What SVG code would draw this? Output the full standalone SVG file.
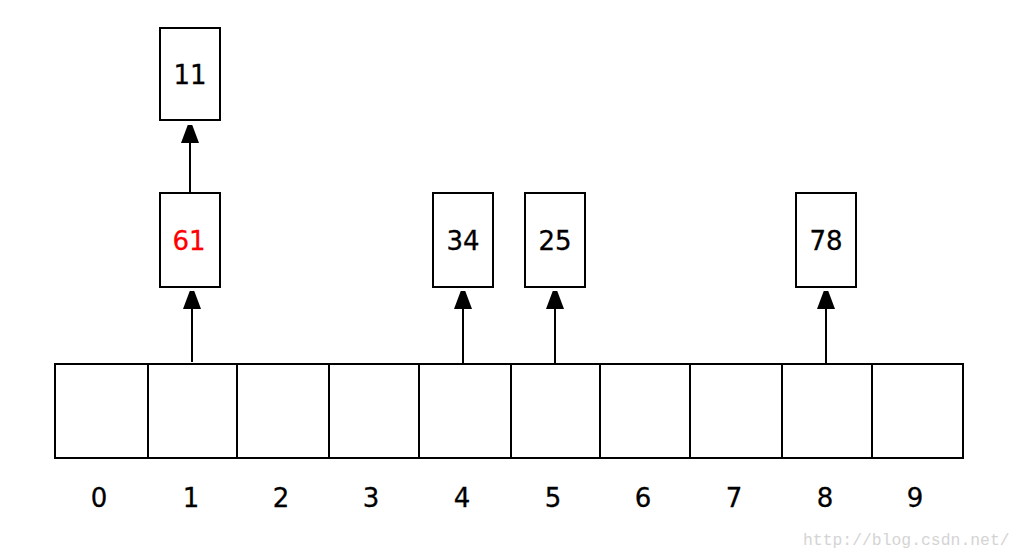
<svg xmlns="http://www.w3.org/2000/svg" width="1024" height="559" viewBox="0 0 1024 559">
<defs>
<marker id="arr" viewBox="0 0 18 24" refX="18" refY="9" markerWidth="18" markerHeight="24" markerUnits="userSpaceOnUse" orient="auto">
<path d="M0,0 L24,9 L0,18 Z" fill="#000"/>
</marker>
<style>
.box{fill:#fff;stroke:#000;stroke-width:2}
.cell{fill:#fff;stroke:#000;stroke-width:2}
.lbl{font-family:"DejaVu Sans","Liberation Sans",sans-serif;font-size:26px;fill:#000;stroke:#000;stroke-width:0.3;text-anchor:middle}
.red{fill:#ff0000;stroke:#ff0000}
.conn{stroke:#000;stroke-width:2;fill:none}
.wm{font-family:"Liberation Mono","DejaVu Sans Mono",monospace;font-size:16.4px;fill:#d4d4d4}
</style>
</defs>
<rect width="1024" height="559" fill="#fff"/>
<g id="array">
<rect class="cell" x="55" y="364" width="93" height="94"/>
<rect class="cell" x="148" y="364" width="89" height="94"/>
<rect class="cell" x="237" y="364" width="92" height="94"/>
<rect class="cell" x="329" y="364" width="90" height="94"/>
<rect class="cell" x="419" y="364" width="92" height="94"/>
<rect class="cell" x="511" y="364" width="89" height="94"/>
<rect class="cell" x="600" y="364" width="90" height="94"/>
<rect class="cell" x="690" y="364" width="92" height="94"/>
<rect class="cell" x="782" y="364" width="90" height="94"/>
<rect class="cell" x="872" y="364" width="91" height="94"/>
</g>
<g id="indices">
<text class="lbl" x="99" y="507">0</text>
<text class="lbl" x="191" y="507">1</text>
<text class="lbl" x="281" y="507">2</text>
<text class="lbl" x="371" y="507">3</text>
<text class="lbl" x="462" y="507">4</text>
<text class="lbl" x="553" y="507">5</text>
<text class="lbl" x="643" y="507">6</text>
<text class="lbl" x="734" y="507">7</text>
<text class="lbl" x="825" y="507">8</text>
<text class="lbl" x="915" y="507">9</text>
</g>
<g id="node11">
<rect class="box" x="160" y="28" width="60" height="92"/>
<text class="lbl" x="190" y="84">11</text>
</g>
<g id="node61">
<rect class="box" x="160" y="193" width="60" height="94"/>
<text class="lbl red" x="189" y="250">61</text>
</g>
<g id="node34">
<rect class="box" x="433" y="193" width="60" height="94"/>
<text class="lbl" x="463" y="250">34</text>
</g>
<g id="node25">
<rect class="box" x="525" y="193" width="60" height="94"/>
<text class="lbl" x="555" y="250">25</text>
</g>
<g id="node78">
<rect class="box" x="796" y="193" width="60" height="94"/>
<text class="lbl" x="826" y="250">78</text>
</g>
<g id="connectors">
<line class="conn" x1="190" y1="193" x2="190" y2="125" marker-end="url(#arr)"/>
<line class="conn" x1="192" y1="362" x2="192" y2="291" marker-end="url(#arr)"/>
<line class="conn" x1="463" y1="364" x2="463" y2="291" marker-end="url(#arr)"/>
<line class="conn" x1="555" y1="364" x2="555" y2="291" marker-end="url(#arr)"/>
<line class="conn" x1="826" y1="364" x2="826" y2="291" marker-end="url(#arr)"/>
</g>
<text class="wm" x="803" y="545">http://blog.csdn.net/</text>
</svg>
